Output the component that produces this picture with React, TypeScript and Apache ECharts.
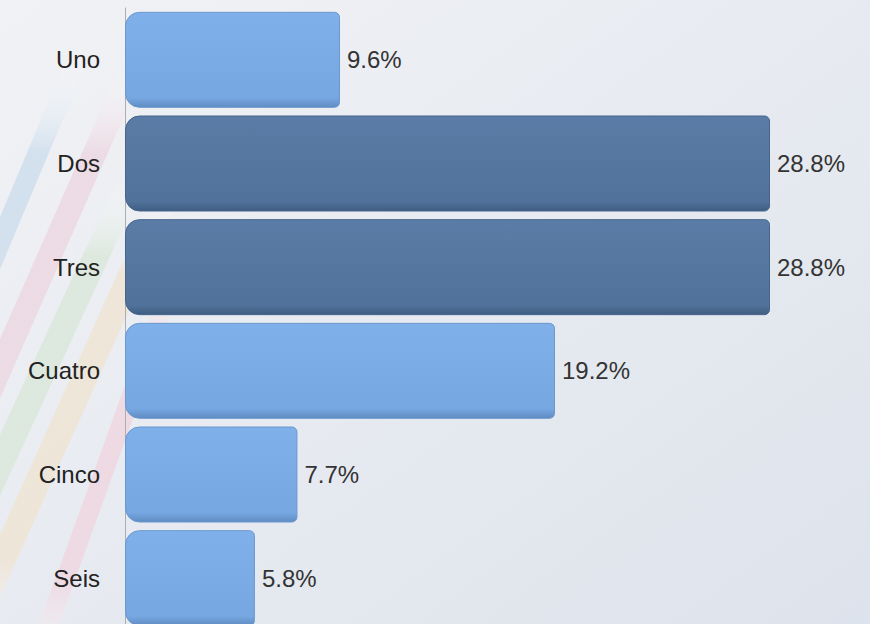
import React, { useEffect, useRef } from "react";
import * as echarts from "echarts";

const categories = ["Uno", "Dos", "Tres", "Cuatro", "Cinco", "Seis"];
const values = [9.6, 28.8, 28.8, 19.2, 7.7, 5.8];
const highlighted = [false, true, true, false, false, false];

function stripe(x0: number, y0: number, w: number, slope: number, color: string, yTop: number) {
  const yBot = 680;
  const xt = x0 + slope * (yTop - y0);
  const xb = x0 + slope * (yBot - y0);
  return {
    type: "polygon",
    z: -10,
    silent: true,
    shape: {
      points: [
        [xt, yTop],
        [xt + w, yTop],
        [xb + w, yBot],
        [xb, yBot],
      ],
    },
    style: {
      fill: new echarts.graphic.LinearGradient(0, 0, 0, 1, [
        { offset: 0, color: "rgba(255,255,255,0)" },
        { offset: 0.15, color },
        { offset: 0.75, color },
        { offset: 1, color: "rgba(255,255,255,0)" },
      ]),
      opacity: 0.75,
    },
  };
}

export default function App() {
  const ref = useRef<HTMLDivElement>(null);
  useEffect(() => {
    document.body.style.margin = "0";
    const chart = echarts.init(ref.current!, null, { renderer: "svg" });
    const barGrad = (dark: boolean) =>
      new echarts.graphic.LinearGradient(0, 0, 0, 1, dark
        ? [
            { offset: 0, color: "#5a7ca6" },
            { offset: 0.9, color: "#51729a" },
            { offset: 1, color: "#3f5d82" },
          ]
        : [
            { offset: 0, color: "#80b0ea" },
            { offset: 0.9, color: "#77a7e1" },
            { offset: 1, color: "#5f8cc2" },
          ]);
    chart.setOption({
      animation: false,
      backgroundColor: new echarts.graphic.LinearGradient(0, 0, 1, 1, [
        { offset: 0, color: "#f1f2f5" },
        { offset: 1, color: "#dde3ec" },
      ]),
      graphic: [
        stripe(47, 105, 22, -0.42, "#cadcec", 60),
        stripe(103, 105, 26, -0.44, "#ecd5df", 60),
        stripe(62, 300, 28, -0.46, "#d8e7d8", 180),
        stripe(98, 317, 28, -0.45, "#f0e3d1", 200),
        stripe(110, 427, 20, -0.36, "#f0d4de", 280),
      ],
      grid: { left: 125, right: 100, top: 8, bottom: 0, containLabel: false },
      xAxis: {
        type: "value",
        min: 0,
        max: 28.8,
        show: false,
      },
      yAxis: {
        type: "category",
        data: categories,
        inverse: true,
        axisLine: { show: true, lineStyle: { color: "#a9aeb5", width: 1 } },
        axisTick: { show: false },
        axisLabel: {
          margin: 25,
          color: "#222",
          fontSize: 24,
          fontFamily: "Liberation Sans, Arial, sans-serif",
        },
      },
      series: [
        {
          type: "bar",
          barWidth: 96,
          data: values.map((v, i) => ({
            value: v,
            itemStyle: {
              color: barGrad(highlighted[i]),
              borderRadius: [14, 5, 5, 14],
              borderColor: highlighted[i] ? "#46658c" : "#6b98cf",
              borderWidth: 1,
            },
          })),
          label: {
            show: true,
            position: "right",
            distance: 7,
            color: "#333",
            fontSize: 24,
            fontFamily: "Liberation Sans, Arial, sans-serif",
            formatter: (p: any) => p.value.toFixed(1) + "%",
          },
        },
      ],
    });
    return () => chart.dispose();
  }, []);
  return (
    <div
      ref={ref}
      style={{ position: "fixed", left: 0, top: 0, width: 870, height: 630 }}
    />
  );
}
